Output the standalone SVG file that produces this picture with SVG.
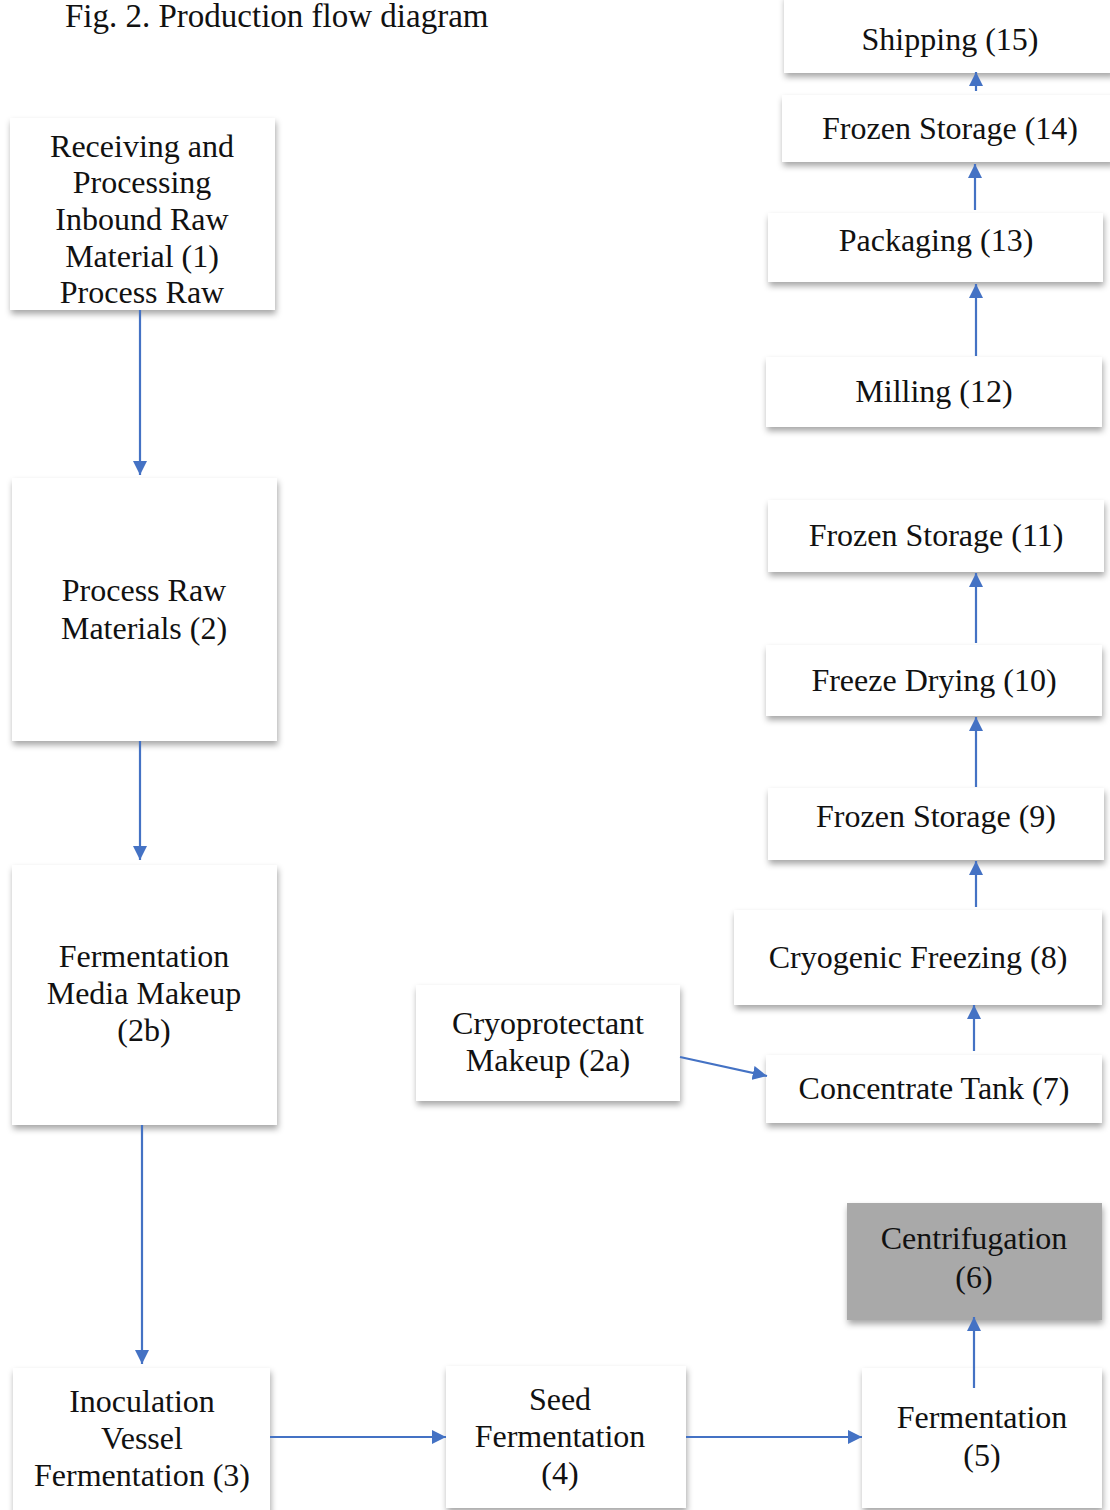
<svg xmlns="http://www.w3.org/2000/svg" width="1110" height="1510" viewBox="0 0 1110 1510">
<defs>
<filter id="sh" x="-10%" y="-10%" width="120%" height="130%">
<feDropShadow dx="1" dy="4" stdDeviation="3" flood-color="#000" flood-opacity="0.35"/>
</filter>
<marker id="ah" viewBox="0 0 10 10" refX="10" refY="5" markerWidth="6.5" markerHeight="6.5" markerUnits="strokeWidth" orient="auto">
<path d="M0,0 L10,5 L0,10 z" fill="#4472C4"/>
</marker>
<style>
.box{fill:#fff;filter:url(#sh)}
.gray{fill:#a9a9a9;filter:url(#sh)}
.t{font-family:"Liberation Serif","Times New Roman",serif;font-size:32px;fill:#111;text-anchor:middle}
.title{font-family:"Liberation Serif","Times New Roman",serif;font-size:33px;fill:#111}
.c{stroke:#4472C4;stroke-width:2.2;fill:none;marker-end:url(#ah)}
</style>
</defs>
<rect width="1110" height="1510" fill="#fff"/>
<text class="title" x="65" y="27">Fig. 2. Production flow diagram</text>

<g id="n15"><rect class="box" x="784" y="-5" width="330" height="78"/><text class="t" x="950" y="50">Shipping (15)</text></g>
<g id="n14"><rect class="box" x="782" y="95" width="332" height="67"/><text class="t" x="950" y="139">Frozen Storage (14)</text></g>
<g id="n13"><rect class="box" x="768" y="213" width="335" height="69"/><text class="t" x="936" y="251">Packaging (13)</text></g>
<g id="n12"><rect class="box" x="766" y="357" width="336" height="70"/><text class="t" x="934" y="402">Milling (12)</text></g>
<g id="n11"><rect class="box" x="768" y="500" width="336" height="72"/><text class="t" x="936" y="546">Frozen Storage (11)</text></g>
<g id="n10"><rect class="box" x="766" y="645" width="336" height="71"/><text class="t" x="934" y="691">Freeze Drying (10)</text></g>
<g id="n9"><rect class="box" x="768" y="788" width="336" height="72"/><text class="t" x="936" y="827">Frozen Storage (9)</text></g>
<g id="n8"><rect class="box" x="734" y="910" width="368" height="95"/><text class="t" x="918" y="968">Cryogenic Freezing (8)</text></g>
<g id="n7"><rect class="box" x="766" y="1055" width="336" height="68"/><text class="t" x="934" y="1099">Concentrate Tank (7)</text></g>
<g id="n2a"><rect class="box" x="416" y="985" width="264" height="116"/><text class="t" x="548" y="1034">Cryoprotectant</text><text class="t" x="548" y="1071">Makeup (2a)</text></g>
<g id="n6"><rect class="gray" x="847" y="1203" width="255" height="117"/><text class="t" x="974" y="1249">Centrifugation</text><text class="t" x="974" y="1288">(6)</text></g>
<g id="n5"><rect class="box" x="862" y="1368" width="240" height="140"/><text class="t" x="982" y="1428">Fermentation</text><text class="t" x="982" y="1466">(5)</text></g>
<g id="n4"><rect class="box" x="446" y="1366" width="240" height="142"/><text class="t" x="560" y="1410">Seed</text><text class="t" x="560" y="1447">Fermentation</text><text class="t" x="560" y="1484">(4)</text></g>
<g id="n3"><rect class="box" x="13" y="1368" width="257" height="145"/><text class="t" x="142" y="1412">Inoculation</text><text class="t" x="142" y="1449">Vessel</text><text class="t" x="142" y="1486">Fermentation (3)</text></g>
<g id="n2b"><rect class="box" x="12" y="865" width="265" height="260"/><text class="t" x="144" y="967">Fermentation</text><text class="t" x="144" y="1004">Media Makeup</text><text class="t" x="144" y="1041">(2b)</text></g>
<g id="n2"><rect class="box" x="12" y="478" width="265" height="263"/><text class="t" x="144" y="601">Process Raw</text><text class="t" x="144" y="639">Materials (2)</text></g>
<g id="n1"><rect class="box" x="10" y="118" width="265" height="192"/><text class="t" x="142" y="157">Receiving and</text><text class="t" x="142" y="193">Processing</text><text class="t" x="142" y="230">Inbound Raw</text><text class="t" x="142" y="267">Material (1)</text><text class="t" x="142" y="303">Process Raw</text></g>

<g id="connectors">
<line class="c" x1="140" y1="310" x2="140" y2="475"/>
<line class="c" x1="140" y1="741" x2="140" y2="860"/>
<line class="c" x1="142" y1="1125" x2="142" y2="1364"/>
<line class="c" x1="270" y1="1437" x2="446" y2="1437"/>
<line class="c" x1="686" y1="1437" x2="862" y2="1437"/>
<line class="c" x1="974" y1="1388" x2="974" y2="1317"/>
<line class="c" x1="680" y1="1057" x2="767" y2="1076"/>
<line class="c" x1="974" y1="1051" x2="974" y2="1005"/>
<line class="c" x1="976" y1="907" x2="976" y2="861"/>
<line class="c" x1="976" y1="787" x2="976" y2="717"/>
<line class="c" x1="976" y1="643" x2="976" y2="573"/>
<line class="c" x1="976" y1="356" x2="976" y2="284"/>
<line class="c" x1="975" y1="210" x2="975" y2="164"/>
<line class="c" x1="976" y1="91" x2="976" y2="72"/>
</g>
</svg>
